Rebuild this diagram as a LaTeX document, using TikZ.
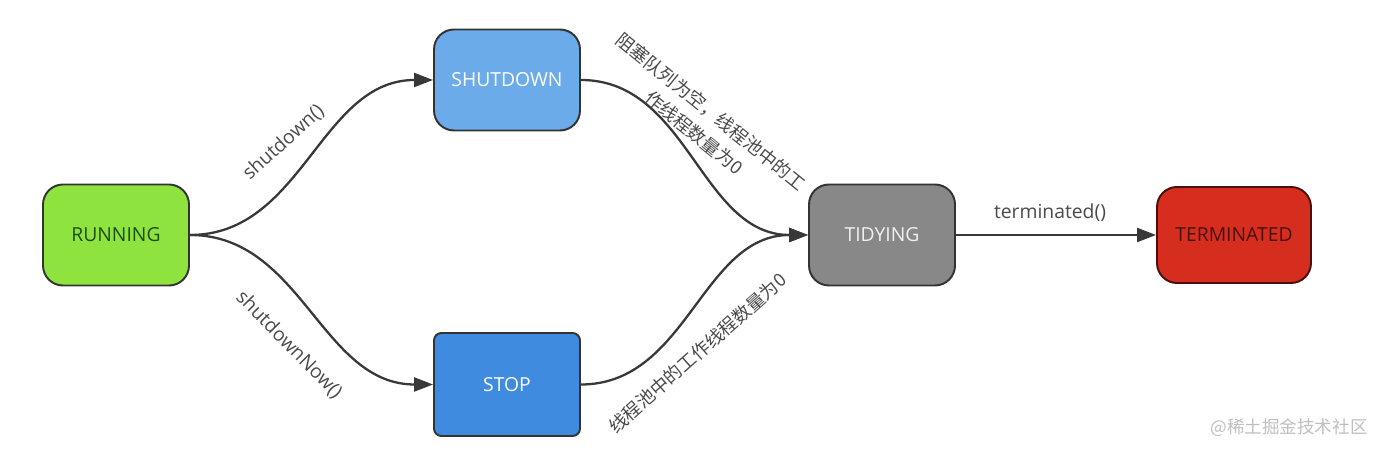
\documentclass[tikz,border=0pt]{standalone}
\usepackage{fontspec}
\setmainfont{Open Sans}
\newfontfamily\cjk{Noto Sans CJK SC}
\usetikzlibrary{shapes,arrows.meta}
\definecolor{runfill}{HTML}{8FE33F}
\definecolor{runtext}{HTML}{1E4D0E}
\definecolor{shutfill}{HTML}{6CABEA}
\definecolor{stopfill}{HTML}{3F8BE0}
\definecolor{tidyfill}{HTML}{888888}
\definecolor{termfill}{HTML}{D62E1E}
\definecolor{termtext}{HTML}{4A1010}
\definecolor{labeltext}{HTML}{4A4A4A}

\begin{document}
\begin{tikzpicture}[state/.style={draw=black!80, line width=1.1pt, rounded corners=0.4cm, minimum width=2.92cm, minimum height=2.02cm, font=\fontsize{11}{13}\selectfont},
    trans/.style={draw=black!78, line width=1.3pt, -{Triangle[length=0.38cm, width=0.28cm]}},
    lbl/.style={text=labeltext, font=\fontsize{11}{13}\selectfont},
    cjklbl/.style={text=labeltext, font=\cjk\fontsize{10.4}{15.3}\selectfont, align=center}]
    \useasboundingbox (0,0) rectangle (27.7,9.1);
    \node[state, fill=runfill, text=runtext] (running) at (2.32,4.40) {RUNNING};
    \node[state, fill=shutfill, text=white] (shutdown) at (10.14,7.50) {SHUTDOWN};
    \node[state, fill=stopfill, text=white, rounded corners=0.15cm, minimum height=2.06cm] (stop) at (10.14,1.41) {STOP};
    \node[state, fill=tidyfill, text=white!94!black] (tidying) at (17.64,4.40) {TIDYING};
    \node[state, fill=termfill, text=termtext, draw=termtext, minimum width=3.08cm, minimum height=1.92cm] (terminated) at (24.68,4.40) {TERMINATED};

    \draw[trans] (running.east) to[out=0, in=180] (shutdown.west);
    \draw[trans] (running.east) to[out=0, in=180] (stop.west);
    \draw[trans] (shutdown.east) to[out=0, in=180] (tidying.west);
    \draw[trans] (stop.east) to[out=0, in=180] (tidying.west);
    \draw[trans] (tidying) -- (terminated);

    \node[lbl, rotate=42] (lshutdown) at (5.67,6.25) {shutdown()};
    \node[lbl, rotate=-45.5] (lshutdownnow) at (5.78,2.20) {shutdownNow()};
    \node[cjklbl, rotate=-39] (lempty) at (14.05,6.66) {阻塞队列为空，线程池中的工\\作线程数量为0};
    \node[cjklbl, rotate=41.5] (lzero) at (13.95,2.04) {线程池中的工作线程数量为0};
    \node[lbl] (lterminated) at (21.0,4.84) {terminated()};
    \node[text=black!25, font=\cjk\fontsize{10}{12}\selectfont] (mark) at (25.78,0.54) {@稀土掘金技术社区};
\end{tikzpicture}
\end{document}
